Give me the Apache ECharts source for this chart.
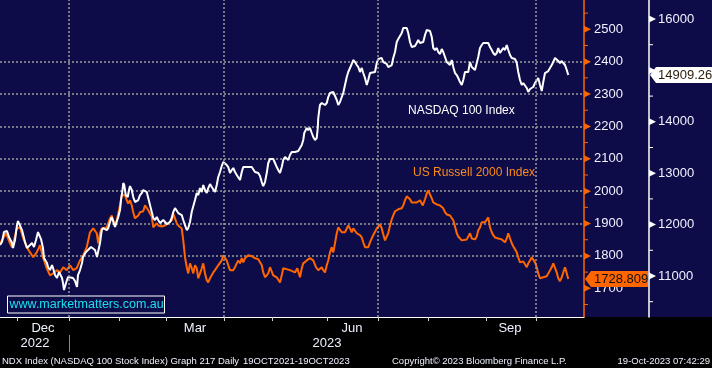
<!DOCTYPE html>
<html><head><meta charset="utf-8">
<script src="https://cdn.jsdelivr.net/npm/echarts@6/dist/echarts.min.js"></script>
<style>html,body{margin:0;padding:0;background:#000;}#c{width:712px;height:368px;}</style>
</head><body><div id="c"></div>
<script>
// x unit = trading days since 21 Nov 2022
const monthStartDays = [6.8, 27.6, 47.6, 66.4, 89.6, 108.8, 130.8, 151.2, 171.2, 194.4, 214.4];
const quarterDays = [27.6, 89.6, 151.2, 214.4];
const monthLabelDays = [17.2, 78, 140.8, 204];
const monthLabels = ['Dec', 'Mar', 'Jun', 'Sep'];
const yearLabelDays = [14, 130.8];
const yearLabels = ['2022', '2023'];
const yearSplitDays = [27.7];
const rutTicks = [1700, 1800, 1900, 2000, 2100, 2200, 2300, 2400, 2500];
const rutMinor = [1650, 1750, 1850, 1950, 2050, 2150, 2250, 2350, 2450, 2550];
const ndxTicks = [11000, 12000, 13000, 14000, 15000, 16000];
const ndxLabelVals = [11000, 12000, 13000, 14000, 16000];
const ndxMinor = [10500, 11500, 12500, 13500, 14500, 15500];
const ndxLast = 14909.26;
const rutLast = 1728.809;

// NASDAQ 100 [day, close]
const ndx = [[0,11602],[0.8,11661],[1.6,11855],[2.8,11875],[3.6,11758],[4.8,11641],[5.2,11544],[6,11700],[6.8,11991],[7.2,12069],[8,12050],[8.8,11894],[10,11661],[10.8,11544],[12,11602],[12.8,11641],[13.6,11563],[14.4,11700],[15.2,11855],[16,11855],[16.4,11719],[17.2,11544],[17.6,11349],[18.8,11252],[19.2,11174],[20,11116],[20.8,11213],[21.2,11155],[22,11018],[22.8,10960],[23.6,11077],[24.8,10960],[25.2,10863],[25.6,10727],[26.4,10863],[27.2,10980],[28,10960],[29.2,10960],[30,10902],[30.8,10785],[31.2,11018],[32,11116],[32.8,11252],[33.2,11369],[34.4,11466],[35.2,11505],[36.4,11563],[37.2,11583],[38,11505],[38.8,11369],[39.6,11349],[40,11641],[40.7,11894],[41.3,11933],[42.7,11894],[43.3,11933],[44,12050],[44.7,12147],[45.3,12128],[46,11953],[46.7,11991],[47.3,12147],[48,12283],[48.4,12478],[48.9,12634],[49.3,12809],[49.7,12770],[50.3,12575],[51.1,12536],[51.6,12673],[52,12750],[52.7,12673],[53.3,12536],[54,12439],[54.7,12420],[55.3,12478],[56,12575],[56.7,12614],[57.3,12673],[58,12711],[58.7,12634],[59.3,12517],[60,12381],[60.7,12244],[61.3,12128],[62,12089],[62.7,12147],[63.3,12089],[64,12030],[64.7,12050],[65.3,12089],[66,12050],[66.7,12011],[67.3,12030],[68,12050],[68.7,12128],[69.3,12244],[70,12322],[70.7,12303],[71.3,12225],[72,12225],[72.7,12186],[73.3,12089],[74,11991],[74.7,11894],[75.3,11933],[76,12050],[76.7,12250],[77.3,12283],[78,12478],[78.7,12614],[79.3,12575],[80,12711],[80.7,12634],[81.3,12770],[82,12673],[82.7,12614],[83.3,12711],[84,12789],[84.7,12731],[85.3,12711],[86,12634],[86.7,12770],[87.3,12926],[88,13023],[88.7,13140],[89.3,13217],[90,13198],[90.7,13159],[91.3,13120],[92,13003],[92.7,13062],[93.3,13101],[94,13023],[94.7,12964],[95.3,12926],[96,12867],[96.7,13023],[97.3,13120],[98,13120],[99.3,13120],[100.7,13120],[101.3,13120],[102,13023],[103.3,13003],[104,12945],[104.7,12828],[105.3,12750],[106,12828],[106.7,13003],[107.3,13198],[108,13276],[108.7,13295],[109.3,13276],[110,13198],[110.7,13120],[111.3,13062],[112,13003],[112.7,13120],[113.3,13256],[114,13315],[114.7,13295],[115.3,13256],[116,13354],[116.7,13412],[118,13412],[118.7,13393],[119.3,13432],[120,13490],[120.7,13548],[121.3,13646],[121.7,13782],[122.3,13840],[122.7,13879],[123.3,13840],[124,13879],[124.7,13782],[125.3,13704],[126,13646],[126.7,13685],[127.1,13879],[127.3,14074],[127.7,14229],[128,14327],[128.7,14366],[129.3,14385],[130,14327],[130.7,14366],[131.3,14482],[132,14560],[133.3,14580],[134,14560],[134.7,14424],[135.3,14327],[136,14385],[136.7,14482],[137.3,14560],[138,14716],[138.7,14872],[139.3,14969],[140,15047],[140.7,15125],[141.3,15202],[142,15163],[142.7,15105],[143.3,15066],[144,14969],[144.7,15047],[145.3,14949],[146,14852],[146.7,14716],[147.3,14813],[148,14949],[148.7,14969],[150,14969],[150.7,15144],[151.3,15222],[152,15241],[152.7,15241],[153.3,15163],[154.7,15125],[155.3,15066],[156,15066],[156.7,15105],[157.3,15241],[158,15358],[158.7,15553],[159.3,15611],[160,15630],[160.7,15728],[161.3,15825],[162,15845],[162.7,15825],[163.3,15728],[164,15553],[164.7,15455],[165.3,15455],[166,15475],[166.7,15533],[167.3,15592],[168,15533],[168.7,15514],[169.3,15553],[170,15689],[170.7,15786],[171.3,15786],[172,15767],[172.7,15650],[173.3,15436],[174,15397],[174.7,15436],[175.3,15358],[176,15319],[176.7,15416],[177.3,15358],[178,15261],[178.7,15163],[179.3,15163],[180,15105],[180.7,15202],[181.3,15066],[182,14949],[182.7,14910],[183.3,14852],[184,14774],[184.7,14716],[185.3,14813],[186,14969],[186.7,14949],[187.3,14969],[188,15163],[188.7,15066],[189.3,15047],[190,15008],[190.7,15144],[191.3,15261],[192,15436],[192.7,15494],[193.3,15533],[194,15533],[195.3,15533],[196,15455],[196.7,15397],[197.3,15339],[198,15300],[198.7,15339],[199.3,15436],[200,15339],[200.7,15358],[201.3,15436],[202,15397],[202.7,15494],[203.3,15397],[204,15300],[204.7,15241],[205.3,15241],[206,15222],[206.7,15144],[207.3,14969],[208,14813],[208.7,14716],[209.3,14755],[210,14774],[210.7,14658],[211.3,14580],[212,14638],[212.7,14638],[213.3,14677],[214,14755],[214.7,14735],[215.3,14852],[216,14716],[216.7,14599],[217.3,14774],[218,14949],[218.7,14949],[219.3,14988],[220,15047],[220.7,15105],[221.3,15163],[222,15241],[222.7,15261],[223.3,15183],[224,15144],[224.7,15183],[225.3,15144],[226,15105],[226.7,15008],[227.3,14909.26]];

// US Russell 2000 [day, close]
const rut = [[0,1839],[1.2,1854],[2.4,1870],[3.2,1854],[4,1839],[4.8,1827],[5.6,1848],[6.7,1885],[8,1888],[9.3,1854],[10.7,1827],[12,1811],[13.3,1796],[14.7,1811],[16,1833],[17.3,1793],[18.7,1762],[20,1740],[21.3,1746],[22.7,1756],[24,1749],[25.3,1765],[26.7,1756],[28,1771],[29.3,1756],[30.7,1762],[32,1786],[33.3,1802],[34.7,1827],[36,1873],[37.3,1885],[38.7,1870],[39.3,1839],[40,1870],[40.7,1885],[42.7,1888],[44,1916],[44.7,1925],[45.3,1910],[46,1897],[46.7,1910],[47.3,1931],[48,1956],[48.7,1987],[49.3,1993],[50,1987],[50.7,1972],[51.3,1962],[52,1972],[52.7,1956],[53.3,1935],[54,1916],[54.7,1916],[55.3,1925],[56,1935],[56.7,1941],[57.3,1938],[58,1956],[58.7,1950],[59.3,1941],[60,1931],[60.7,1922],[61.3,1888],[62,1894],[62.7,1901],[63.3,1894],[64,1888],[64.7,1891],[65.3,1888],[66,1894],[66.7,1897],[67.3,1901],[68,1901],[68.7,1910],[69.3,1931],[70,1916],[70.7,1901],[71.3,1894],[72,1888],[72.7,1885],[73.3,1848],[74,1796],[74.7,1765],[75.3,1746],[76,1777],[76.7,1762],[77.3,1746],[78,1771],[78.7,1762],[79.3,1731],[80,1746],[80.7,1762],[81.3,1777],[82,1746],[82.7,1725],[83.3,1718],[84,1731],[84.7,1740],[85.3,1749],[86,1756],[86.7,1762],[87.3,1771],[88,1774],[88.7,1786],[89.3,1802],[90,1805],[90.7,1786],[91.3,1771],[92,1756],[92.7,1752],[93.3,1756],[94,1765],[94.7,1777],[95.3,1786],[96,1777],[96.7,1793],[97.3,1780],[98,1793],[98.7,1796],[99.3,1802],[100,1796],[100.7,1799],[101.3,1796],[102,1793],[103.3,1790],[104,1786],[104.7,1771],[105.3,1749],[106,1734],[106.7,1731],[107.3,1746],[108,1765],[108.7,1762],[109.3,1740],[110,1734],[110.7,1734],[111.3,1731],[112,1718],[112.7,1740],[113.3,1762],[114,1756],[116,1756],[116.7,1759],[118,1749],[118.9,1762],[120,1734],[120.7,1762],[121.3,1777],[122.7,1786],[124,1793],[124.7,1796],[125.3,1786],[126.4,1765],[127.3,1756],[128,1759],[128.7,1765],[129.3,1756],[130,1749],[130.7,1771],[131.3,1786],[132,1811],[132.7,1827],[133.3,1811],[134,1839],[134.7,1870],[135.3,1888],[136,1885],[136.7,1873],[137.3,1870],[138,1873],[138.7,1879],[139.3,1894],[140,1885],[140.7,1873],[141.3,1885],[142,1879],[142.7,1870],[143.3,1864],[144,1864],[144.7,1857],[145.3,1842],[146,1827],[146.7,1824],[147.3,1827],[148,1842],[148.7,1854],[149.3,1864],[150,1870],[150.7,1885],[151.3,1891],[152,1897],[152.7,1885],[153.3,1867],[154,1848],[154.7,1854],[155.3,1870],[156,1894],[156.7,1913],[157.3,1925],[158,1938],[158.7,1941],[159.3,1944],[160,1947],[160.7,1947],[161.3,1956],[162,1972],[162.7,1984],[163.3,1987],[164,1975],[164.7,1965],[165.3,1962],[166.7,1965],[168,1972],[168.7,1972],[169.1,1956],[170,1975],[170.7,1993],[171.3,2002],[172,1996],[172.7,1978],[173.3,1965],[174.7,1959],[176,1956],[176.7,1950],[177.3,1947],[178,1935],[178.7,1928],[180,1925],[180.7,1919],[181.3,1910],[182,1891],[182.7,1870],[183.3,1860],[184,1854],[184.7,1848],[185.3,1854],[186.7,1851],[187.3,1851],[188,1870],[188.7,1854],[189.3,1848],[190,1851],[190.7,1860],[191.3,1879],[192,1888],[192.7,1904],[193.3,1901],[194,1904],[194.7,1910],[195.3,1919],[196,1888],[196.7,1873],[197.3,1864],[198,1857],[198.7,1857],[199.3,1854],[200,1854],[200.7,1851],[201.3,1848],[202,1842],[202.7,1854],[203.3,1870],[204,1854],[204.7,1839],[205.3,1830],[206,1827],[206.7,1811],[207.3,1796],[208,1780],[208.7,1777],[209.3,1783],[210,1774],[210.7,1765],[211.3,1777],[212,1786],[212.7,1796],[213.3,1790],[214,1780],[214.7,1765],[215.3,1746],[216,1731],[216.7,1731],[217.3,1734],[218,1734],[218.7,1737],[219.3,1746],[220,1749],[220.7,1765],[221.3,1777],[222,1774],[222.7,1749],[223.3,1731],[224,1722],[224.7,1734],[225.3,1749],[226,1765],[226.7,1746],[227.3,1728.809]];

const NAVY = '#0e0c48';
const FONT = '"Liberation Sans", Arial, sans-serif';
const LABEL = '#eef2ff';
const ORANGE = '#ff6600';
const XMIN = 0, XMAX = 233.6;
const RMIN = 1611.3, RMAX = 2590.5;
const NMIN = 10202, NMAX = 16370;

function nearestLabel(v, days, labels) {
  let best = 0, bd = 1e9;
  days.forEach((d, i) => { const dd = Math.abs(d - v); if (dd < bd) { bd = dd; best = i; } });
  return labels[best];
}

const chart = echarts.init(document.getElementById('c'), null, {renderer: 'canvas'});

const option = {
  animation: false,
  backgroundColor: {type: 'linear', x: 0, y: 0, x2: 0, y2: 1, colorStops: [
    {offset: 0, color: NAVY}, {offset: 317 / 368, color: NAVY},
    {offset: 317 / 368, color: '#000'}, {offset: 1, color: '#000'}]},
  grid: {left: 0, top: 0, width: 584, height: 317, containLabel: false, outerBoundsMode: 'none'},
  xAxis: [
    {
      type: 'value', position: 'bottom', min: XMIN, max: XMAX,
      axisLine: {show: true, onZero: false, lineStyle: {color: '#ffffff', width: 1}},
      axisTick: {show: true, customValues: monthStartDays, length: 4, lineStyle: {color: '#d0d0d0', width: 1}},
      axisLabel: {customValues: monthLabelDays, color: LABEL, fontFamily: FONT, fontSize: 13, margin: 5,
        formatter: v => nearestLabel(v, monthLabelDays, monthLabels)},
      splitLine: {show: false}
    },
    {
      type: 'value', position: 'bottom', offset: 18, min: XMIN, max: XMAX,
      axisLine: {show: false, onZero: false},
      axisTick: {show: true, customValues: yearSplitDays, length: 17, lineStyle: {color: '#8a8a8a', width: 1}},
      axisLabel: {customValues: yearLabelDays, color: LABEL, fontFamily: FONT, fontSize: 13, margin: 2,
        formatter: v => nearestLabel(v, yearLabelDays, yearLabels)},
      splitLine: {show: false}
    }
  ],
  yAxis: [
    {
      type: 'value', position: 'right', offset: 0, min: RMIN, max: RMAX, splitNumber: 10,
      axisLine: {show: true, onZero: false, lineStyle: {color: ORANGE, width: 1.5}},
      axisTick: {show: false, customValues: rutTicks},
      axisLabel: {customValues: rutTicks, color: LABEL, fontFamily: FONT, fontSize: 13, margin: 10,
        formatter: v => String(v)},
      splitLine: {show: true, showMinLine: false, showMaxLine: false,
        lineStyle: {color: '#9a9a9a', width: 1.5, type: [2, 2]}}
    },
    {
      type: 'value', position: 'right', offset: 65, min: NMIN, max: NMAX, splitNumber: 6,
      axisLine: {show: true, onZero: false, lineStyle: {color: '#ffffff', width: 1.5}},
      axisTick: {show: false, customValues: ndxTicks},
      axisLabel: {customValues: ndxLabelVals, color: LABEL, fontFamily: FONT, fontSize: 13, margin: 9,
        formatter: v => String(v)},
      splitLine: {show: false}
    }
  ],
  series: [
    {
      type: 'line', name: 'grid', xAxisIndex: 0, yAxisIndex: 0, data: [], z: 1, silent: true,
      markLine: {silent: true, symbol: ['none', 'none'], label: {show: false},
        lineStyle: {color: '#9a9a9a', width: 1.5, type: [2, 2]},
        data: quarterDays.map(d => ({xAxis: d}))}
    },
    {
      type: 'line', name: 'US Russell 2000 Index', xAxisIndex: 0, yAxisIndex: 0, data: rut,
      showSymbol: false, symbol: 'none', lineStyle: {color: ORANGE, width: 2}, itemStyle: {color: ORANGE}, z: 3
    },
    {
      type: 'line', name: 'NASDAQ 100 Index', xAxisIndex: 0, yAxisIndex: 1, data: ndx,
      showSymbol: false, symbol: 'none', lineStyle: {color: '#ffffff', width: 2}, itemStyle: {color: '#ffffff'}, z: 4
    }
  ],
  graphic: [
    {type: 'text', id: 'tNdx', x: 408, y: 111, z: 50, style: {text: 'NASDAQ 100 Index', fill: '#ffffff', font: '12px ' + FONT, verticalAlign: 'middle'}},
    {type: 'text', id: 'tRut', x: 413, y: 173, z: 50, style: {text: 'US Russell 2000 Index', fill: '#ff8c1a', font: '12px ' + FONT, verticalAlign: 'middle'}},
    {type: 'rect', id: 'wmBox', z: 50, shape: {x: 7.5, y: 296, width: 157, height: 17}, style: {fill: NAVY, stroke: '#ffffff', lineWidth: 1}},
    {type: 'text', id: 'wmTxt', x: 9.5, y: 305, z: 51, style: {text: 'www.marketmatters.com.au', fill: '#19e0f0', font: '12.5px ' + FONT, verticalAlign: 'middle'}},
    {type: 'text', id: 'f1', x: 2, y: 361, z: 50, style: {text: 'NDX Index (NASDAQ 100 Stock Index) Graph 217', fill: '#eef2ff', font: '9.5px ' + FONT, verticalAlign: 'middle'}},
    {type: 'text', id: 'f2', x: 218, y: 361, z: 50, style: {text: 'Daily', fill: '#eef2ff', font: '9.5px ' + FONT, verticalAlign: 'middle'}},
    {type: 'text', id: 'f3', x: 243, y: 361, z: 50, style: {text: '19OCT2021-19OCT2023', fill: '#eef2ff', font: '9.5px ' + FONT, verticalAlign: 'middle'}},
    {type: 'text', id: 'f4', x: 392, y: 361, z: 50, style: {text: 'Copyright© 2023 Bloomberg Finance L.P.', fill: '#eef2ff', font: '9.5px ' + FONT, verticalAlign: 'middle'}},
    {type: 'text', id: 'f5', x: 710, y: 361, z: 50, style: {text: '19-Oct-2023 07:42:29', fill: '#eef2ff', font: '9.5px ' + FONT, align: 'right', verticalAlign: 'middle'}}
  ]
};
chart.setOption(option);

// axis tick arrows, minor ticks and value tags, placed through the axis scales
const xR = chart.convertToPixel({xAxisIndex: 0}, XMAX);
const xN = xR + 65;
const extra = [];
rutTicks.forEach((v, i) => {
  const y = chart.convertToPixel({yAxisIndex: 0}, v);
  extra.push({type: 'polygon', id: 'ra' + i, z: 40, shape: {points: [[xR, y - 3.5], [xR + 7, y], [xR, y + 3.5]]}, style: {fill: ORANGE}});
});
rutMinor.forEach((v, i) => {
  const y = chart.convertToPixel({yAxisIndex: 0}, v);
  extra.push({type: 'line', id: 'rm' + i, z: 40, shape: {x1: xR, y1: y, x2: xR + 4, y2: y}, style: {stroke: ORANGE, lineWidth: 1}});
});
ndxTicks.forEach((v, i) => {
  const y = chart.convertToPixel({yAxisIndex: 1}, v);
  extra.push({type: 'polygon', id: 'na' + i, z: 40, shape: {points: [[xN, y - 3.5], [xN + 7, y], [xN, y + 3.5]]}, style: {fill: '#ffffff'}});
});
ndxMinor.forEach((v, i) => {
  const y = chart.convertToPixel({yAxisIndex: 1}, v);
  extra.push({type: 'line', id: 'nm' + i, z: 40, shape: {x1: xN, y1: y, x2: xN + 4, y2: y}, style: {stroke: '#ffffff', lineWidth: 1}});
});
const yR = chart.convertToPixel({yAxisIndex: 0}, rutLast);
const yN = chart.convertToPixel({yAxisIndex: 1}, ndxLast);
extra.push(
  {type: 'polygon', id: 'tagR', z: 60, shape: {points: [[xR + 1, yR], [xR + 7, yR - 8], [xN - 1, yR - 8], [xN - 1, yR + 8], [xR + 7, yR + 8]]}, style: {fill: ORANGE}},
  {type: 'text', id: 'tagRt', z: 61, x: xR + 10, y: yR + 0.5, style: {text: String(rutLast), fill: '#111111', font: '13px ' + FONT, verticalAlign: 'middle'}},
  {type: 'polygon', id: 'tagN', z: 60, shape: {points: [[xN + 1, yN], [xN + 7, yN - 8], [712, yN - 8], [712, yN + 8], [xN + 7, yN + 8]]}, style: {fill: '#ffffff'}},
  {type: 'text', id: 'tagNt', z: 61, x: xN + 9, y: yN + 0.5, style: {text: String(ndxLast), fill: '#2a1a0a', font: '13px ' + FONT, verticalAlign: 'middle'}}
);
chart.setOption({graphic: extra});
</script>
</body></html>
